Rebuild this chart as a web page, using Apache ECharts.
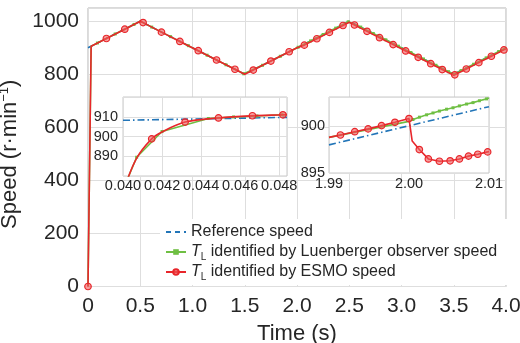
<!DOCTYPE html>
<html>
<head>
<meta charset="utf-8">
<script src="https://cdn.jsdelivr.net/npm/echarts@6/dist/echarts.min.js"></script>
<style>
  html, body { margin: 0; padding: 0; background: #fff; }
  #chart { width: 520px; height: 343px; }
</style>
</head>
<body>
<div id="chart"></div>
<script>
// ---- main view (0 .. 4 s) ----
const refT = [0, 0.5, 1.5, 2.5, 3.5, 4.0];
const refV = [900, 1000, 800, 1000, 800, 900];

// ESMO speed: circle markers + corners (no marker)
const esmoT = [0, 0.176, 0.352, 0.527, 0.703, 0.879, 1.055, 1.23, 1.406, 1.582, 1.75, 1.925,
  2.07, 2.19, 2.31, 2.44, 2.55, 2.67, 2.79, 2.92, 3.04, 3.16, 3.28, 3.39, 3.51, 3.62, 3.74, 3.86, 3.98];
const esmoV = [0, 935, 970, 995, 959, 924, 889, 854, 819, 816, 850, 885,
  910, 934, 958, 984, 986, 962, 938, 912, 888, 864, 840, 818, 798, 820, 844, 868, 892];
const esmoCornerT = [0.03, 0.5, 1.5, 2.0, 2.5, 3.5, 4.0];
const esmoCornerV = [906, 1000, 800, 900, 996, 796, 896];

// Luenberger observer speed: square markers + corners
const luenT = [0.09, 0.26, 0.44, 0.61, 0.79, 0.96, 1.14, 1.32, 1.49, 1.67, 1.84, 2.01,
  2.13, 2.25, 2.37, 2.49, 2.61, 2.73, 2.85, 2.97, 3.09, 3.21, 3.33, 3.45, 3.57, 3.69, 3.81, 3.93];
const luenV = [918, 952, 988, 978, 942, 908, 872, 836, 802, 834, 868, 902,
  926, 950, 974, 998, 978, 954, 930, 906, 882, 858, 834, 810, 814, 838, 862, 886];
const luenCornerT = [0, 0.03, 0.5, 1.5, 2.5, 3.5, 4.0];
const luenCornerV = [0, 906, 1000, 800, 1000, 800, 900];

// ---- left inset (0.040 .. 0.048 s) ----
const refLT = [0.040, 0.0484];
const refLV = [908.2, 909.7];
const esmoLT = [0.04147, 0.04318, 0.04489, 0.04663, 0.04819];
const esmoLV = [898.8, 907.3, 909.4, 910.5, 911.0];
const esmoLCornerT = [0.0400, 0.0407, 0.0420, 0.0484];
const esmoLCornerV = [872, 889, 902.3, 911.1];
const luenLT = [0.0407, 0.0420, 0.04437, 0.04566, 0.04686, 0.04814];
const luenLV = [889.5, 902.5, 909.1, 909.9, 910.4, 911.0];
const luenLCornerT = [0.0400, 0.0484];
const luenLCornerV = [873, 911.1];

// ---- right inset (1.99 .. 2.01 s) ----
const refRT = [1.99, 2.01];
const refRV = [898.0, 902.07];
const esmoRT = [1.99143, 1.99322, 1.99489, 1.99657, 1.99824, 2.0, 2.00129, 2.00242, 2.0038,
  2.00514, 2.0063, 2.00744, 2.0086, 2.00983];
const esmoRV = [899.05, 899.4, 899.7, 900.05, 900.4, 900.8, 897.5, 896.5, 896.25,
  896.3, 896.5, 896.8, 897.0, 897.25];
const esmoRCornerT = [1.99, 2.0004, 2.01];
const esmoRCornerV = [898.8, 898.4, 897.3];
const luenRT = [2.0005, 2.0013, 2.0022, 2.003, 2.0038, 2.0047, 2.0055, 2.0063, 2.0072, 2.008, 2.0088, 2.0097];
const luenRV = [900.7, 900.95, 901.2, 901.4, 901.6, 901.8, 901.95, 902.15, 902.35, 902.5, 902.7, 902.9];
const luenRCornerT = [1.99, 1.995, 2.0, 2.01];
const luenRCornerV = [898.8, 899.65, 900.5, 903.0];

const legendLabels = {
  ref: 'Reference speed',
  luen: '{i|T}{s|L}{t| identified by Luenberger observer speed}',
  esmo: '{i|T}{s|L}{t| identified by ESMO speed}'
};

const BLUE = '#2275b8', GREEN = '#6fbf43', RED = '#e8262b';
const FONT = "'Liberation Sans', Arial, sans-serif";
const INK = '#262626';

function pairs(ts, vs) {
  return ts.map((t, i) => [t, vs[i]]);
}
function merge(mt, mv, ct, cv) {
  const a = mt.map((t, i) => ({ value: [t, mv[i]] }));
  const b = ct.map((t, i) => ({ value: [t, cv[i]], symbol: 'none' }));
  return a.concat(b).sort((p, q) => p.value[0] - q.value[0]);
}

function refSeries(name, idx, data, dash) {
  return {
    name: name, type: 'line', xAxisIndex: idx, yAxisIndex: idx, data: data,
    symbol: 'none', z: 2,
    lineStyle: { color: BLUE, width: 1.6, type: dash },
    itemStyle: { color: BLUE }
  };
}
function luenSeries(name, idx, data) {
  return {
    name: name, type: 'line', xAxisIndex: idx, yAxisIndex: idx, data: data,
    symbol: 'rect', symbolSize: 3, z: 3,
    lineStyle: { color: GREEN, width: 1.6 },
    itemStyle: { color: GREEN }
  };
}
function esmoSeries(name, idx, data, smooth) {
  return {
    name: name, type: 'line', xAxisIndex: idx, yAxisIndex: idx, data: data,
    symbol: 'circle', symbolSize: 6.5, z: 4, smooth: smooth,
    lineStyle: { color: RED, width: 1.6 },
    itemStyle: { color: 'rgba(238,90,90,0.6)', borderColor: RED, borderWidth: 1.2 }
  };
}

const gridLine = { show: true, lineStyle: { color: '#dedede', width: 1 } };

const chart = echarts.init(document.getElementById('chart'));
chart.setOption({
  animation: false,
  textStyle: { fontFamily: FONT },
  grid: [
    { left: 88, right: 14, top: 8, bottom: 56.5, show: true, backgroundColor: 'transparent',
      borderColor: '#b4b4b4', borderWidth: 1, containLabel: false, outerBoundsMode: 'none' },
    { left: 123, top: 97, width: 164, height: 79, show: true, backgroundColor: '#fff',
      borderColor: '#c8c8c8', borderWidth: 1, z: 1, containLabel: false, outerBoundsMode: 'none' },
    { left: 329, top: 97, width: 160, height: 76, show: true, backgroundColor: '#fff',
      borderColor: '#c8c8c8', borderWidth: 1, z: 1, containLabel: false, outerBoundsMode: 'none' }
  ],
  xAxis: [
    { type: 'value', gridIndex: 0, min: 0, max: 4, interval: 0.5,
      name: 'Time (s)', nameLocation: 'middle', nameGap: 36,
      nameTextStyle: { fontSize: 22, color: INK, fontFamily: FONT },
      axisLine: { show: false }, axisTick: { show: false }, splitLine: gridLine,
      axisLabel: { fontSize: 21, color: INK, margin: 9, fontFamily: FONT,
        formatter: v => v === 0 ? '0' : v.toFixed(1) } },
    { type: 'value', gridIndex: 1, min: 0.040, max: 0.0484, interval: 0.002, z: 1,
      axisLine: { show: false }, axisTick: { show: false }, splitLine: gridLine,
      axisLabel: { fontSize: 14.5, color: INK, margin: 2, showMaxLabel: false, fontFamily: FONT,
        formatter: v => v.toFixed(3) } },
    { type: 'value', gridIndex: 2, min: 1.99, max: 2.01, interval: 0.01, z: 1,
      axisLine: { show: false }, axisTick: { show: false }, splitLine: gridLine,
      axisLabel: { fontSize: 14.5, color: INK, margin: 3, fontFamily: FONT,
        formatter: v => v.toFixed(2) } }
  ],
  yAxis: [
    { type: 'value', gridIndex: 0, min: 0, max: 1050, interval: 200,
      name: '{a|Speed (r·min}{b|−1}{a|)}', nameLocation: 'middle', nameGap: 55,
      nameTextStyle: { color: INK, fontFamily: FONT, padding: [0, 14, 0, 0],
        rich: {
          a: { fontSize: 22, lineHeight: 24, color: INK, fontFamily: FONT },
          b: { fontSize: 13, lineHeight: 13, verticalAlign: 'top', color: INK, fontFamily: FONT }
        } },
      axisLine: { show: false }, axisTick: { show: false }, splitLine: gridLine,
      axisLabel: { fontSize: 21, color: INK, margin: 9, showMaxLabel: false, fontFamily: FONT,
        formatter: v => String(v) } },
    { type: 'value', gridIndex: 1, min: 880, max: 920, interval: 10, z: 1,
      axisLine: { show: false }, axisTick: { show: false }, splitLine: gridLine,
      axisLabel: { fontSize: 14.5, color: INK, margin: 5, showMinLabel: false, showMaxLabel: false,
        fontFamily: FONT, formatter: v => String(v) } },
    { type: 'value', gridIndex: 2, min: 895, max: 903.1, interval: 5, z: 1,
      axisLine: { show: false }, axisTick: { show: false }, splitLine: gridLine,
      axisLabel: { fontSize: 14.5, color: INK, margin: 4, showMaxLabel: false, fontFamily: FONT,
        formatter: v => String(v) } }
  ],
  legend: {
    orient: 'vertical', left: 160, top: 219,
    padding: [3, 10, 3, 5], itemGap: 0, itemWidth: 20, itemHeight: 7,
    backgroundColor: '#fff', borderWidth: 0,
    data: [
      { name: 'ref', itemStyle: { opacity: 0 } },
      { name: 'luen' },
      { name: 'esmo' }
    ],
    formatter: name => legendLabels[name],
    textStyle: {
      fontSize: 16, lineHeight: 20, color: INK, fontFamily: FONT,
      rich: {
        i: { fontSize: 16, fontStyle: 'italic', lineHeight: 20, color: INK, fontFamily: FONT },
        s: { fontSize: 10, lineHeight: 10, verticalAlign: 'bottom', color: INK, fontFamily: FONT },
        t: { fontSize: 16, lineHeight: 20, color: INK, fontFamily: FONT }
      }
    }
  },
  series: [
    refSeries('ref', 0, pairs(refT, refV), [5, 4]),
    luenSeries('luen', 0, merge(luenT, luenV, luenCornerT, luenCornerV)),
    esmoSeries('esmo', 0, merge(esmoT, esmoV, esmoCornerT, esmoCornerV), false),

    refSeries('ref-l', 1, pairs(refLT, refLV), [7, 3, 1.5, 3]),
    luenSeries('luen-l', 1, merge(luenLT, luenLV, luenLCornerT, luenLCornerV)),
    esmoSeries('esmo-l', 1, merge(esmoLT, esmoLV, esmoLCornerT, esmoLCornerV), 0.35),

    refSeries('ref-r', 2, pairs(refRT, refRV), [7, 3, 1.5, 3]),
    luenSeries('luen-r', 2, merge(luenRT, luenRV, luenRCornerT, luenRCornerV)),
    esmoSeries('esmo-r', 2, merge(esmoRT, esmoRV, esmoRCornerT, esmoRCornerV), false)
  ]
});

window.addEventListener('resize', () => chart.resize());
</script>
</body>
</html>
